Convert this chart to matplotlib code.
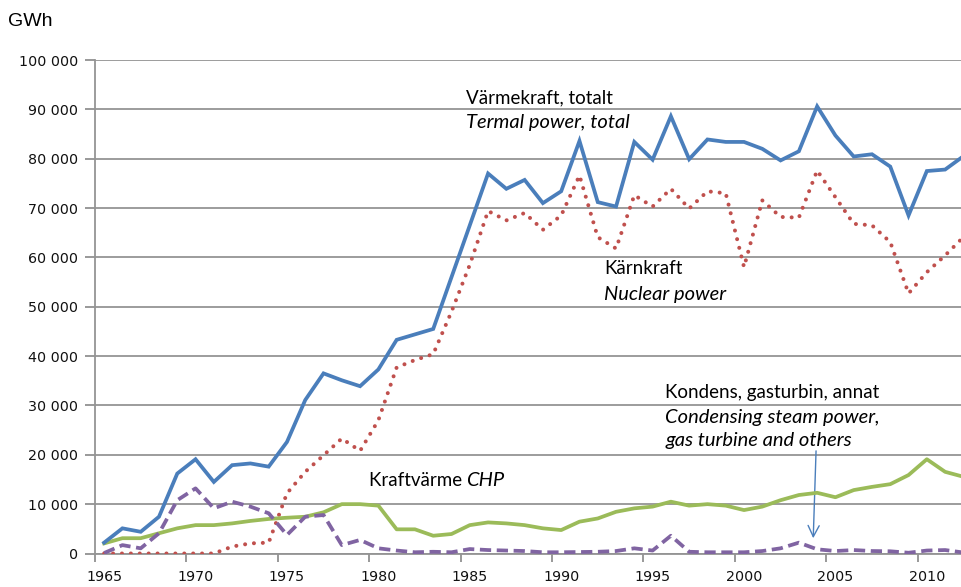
import matplotlib
matplotlib.use("Agg")
import matplotlib.pyplot as plt
from matplotlib.ticker import FuncFormatter, FixedLocator

years = list(range(1965, 2013))

total = [2200, 5100, 4400, 7450, 16200, 19100, 14500, 17900, 18250, 17600,
         22600, 31100, 36500, 35100, 33900, 37300, 43300, 44400, 45500, 56000,
         66500, 77000, 73900, 75700, 71000, 73400, 83600, 71200, 70300, 83400,
         79800, 88600, 79900, 83900, 83400, 83400, 82000, 79650, 81500, 90600,
         84700, 80450, 80900, 78400, 68500, 77500, 77800, 80500]

nuclear = [0, 0, 0, 0, 0, 0, 0, 1400, 2050, 2200,
           12200, 16550, 19900, 23300, 20800, 27000, 37700, 39200, 40400, 49000,
           58500, 69400, 67500, 69000, 65600, 68500, 76600, 64100, 61800, 72600,
           70300, 73900, 69900, 73400, 73000, 58050, 71550, 68200, 68050, 77600,
           72200, 66800, 66500, 63100, 52700, 57000, 60400, 64100]

chp = [2050, 3100, 3100, 4100, 5100, 5750, 5750, 6100, 6600, 7000,
       7250, 7450, 8350, 10000, 10000, 9700, 4900, 4900, 3600, 3950,
       5750, 6300, 6100, 5750, 5100, 4750, 6450, 7100, 8450, 9150,
       9500, 10500, 9700, 10000, 9700, 8800, 9500, 10800, 11850, 12300,
       11400, 12850, 13500, 14050, 15900, 19100, 16550, 15550]

condensing = [100, 1700, 1050, 4100, 10800, 13200, 9150, 10500, 9500, 8150,
              3750, 7450, 7800, 1700, 2750, 1050, 600, 250, 350, 250,
              900, 700, 600, 500, 250, 250, 300, 350, 500, 1050,
              600, 3600, 350, 250, 250, 250, 500, 1050, 2200, 850,
              500, 700, 500, 450, 150, 600, 700, 200]

xtick_years = [1965, 1970, 1975, 1980, 1985, 1990, 1995, 2000, 2005, 2010]
ytick_vals = list(range(0, 100001, 10000))

W, H = 961, 587
fig = plt.figure(figsize=(W / 100, H / 100), dpi=100)
ax = fig.add_axes([95 / W, (H - 553.5) / H, (W - 95) / W, (553.5 - 60) / H])

blue = "#4a7ebb"
red = "#c0504d"
green = "#9bbb59"
purple = "#8064a2"

ax.plot(years, total, color=blue, lw=2.7, solid_joinstyle="miter", zorder=5)
ax.plot(years, nuclear, color=red, lw=2.9, linestyle=(0, (0.01, 2.2)),
        dash_capstyle="round", zorder=4)
ax.plot(years, chp, color=green, lw=2.7, zorder=4)
ax.plot(years, condensing, color=purple, lw=2.7, linestyle=(0, (3, 1.5)), zorder=4)

x_left = 1965 + (95 - 103.3) / 18.3
x_right = 1965 + (W - 103.3) / 18.3
ax.set_xlim(x_left, x_right)
ax.set_ylim(0, 100000)

ax.yaxis.set_major_locator(FixedLocator(ytick_vals))
ax.yaxis.set_major_formatter(FuncFormatter(lambda v, p: f"{int(v):,}".replace(",", " ")))
ax.set_xticks(xtick_years)
ax.set_xticklabels([str(y) for y in xtick_years])
ax.set_xticks([y - 0.5 for y in xtick_years], minor=True)
ax.tick_params(axis="x", which="major", length=0, pad=12)
ax.tick_params(axis="x", which="minor", length=6, color="#888888", width=1.2)
ax.tick_params(axis="y", length=7, color="#888888", width=1.2, pad=5)
for lab in ax.get_xticklabels() + ax.get_yticklabels():
    lab.set_fontfamily("DejaVu Sans")
    lab.set_fontsize(10.3)
    lab.set_color("#111111")

ax.grid(axis="y", color="#949494", lw=1.3)
ax.set_axisbelow(True)
for s in ["top", "right"]:
    ax.spines[s].set_visible(False)
for s in ["left", "bottom"]:
    ax.spines[s].set_color("#949494")
    ax.spines[s].set_linewidth(1.3)

def yr(px):
    return 1965 + (px - 103.3) / 18.3

def val(py):
    return (553.5 - py) / 49.4 * 10000

fs = 13.5
fsi = 14.5
fam = "Lato"
ax.text(yr(466), val(97), "Värmekraft, totalt", fontsize=fs, family=fam, va="center")
ax.text(yr(466), val(122), "Termal power, total", fontsize=fsi, family=fam, va="center", style="italic")
ax.text(yr(604), val(268), "Kärnkraft", fontsize=fs, family=fam, va="center")
ax.text(yr(604), val(294), "Nuclear power", fontsize=fsi, family=fam, va="center", style="italic")
ax.text(yr(665), val(392), "Kondens, gasturbin, annat", fontsize=fs, family=fam, va="center")
ax.text(yr(665), val(417), "Condensing steam power,", fontsize=fsi, family=fam, va="center", style="italic")
ax.text(yr(665), val(440), "gas turbine and others", fontsize=fsi, family=fam, va="center", style="italic")
t = ax.text(yr(368), val(480), "Kraftvärme ", fontsize=fs, family=fam, va="center")
ax.annotate("CHP", xycoords=t, xy=(1, 0.5), va="center", fontsize=fsi, family=fam, style="italic")

ax.annotate("", xy=(yr(813), val(541)), xytext=(yr(816), val(448)),
            arrowprops=dict(arrowstyle="->", color=blue, lw=1, mutation_scale=20))

fig.text(8 / W, 1 - 22 / H, "GWh", fontsize=14, family="Liberation Sans", va="center")

fig.savefig("out.png", dpi=100)
